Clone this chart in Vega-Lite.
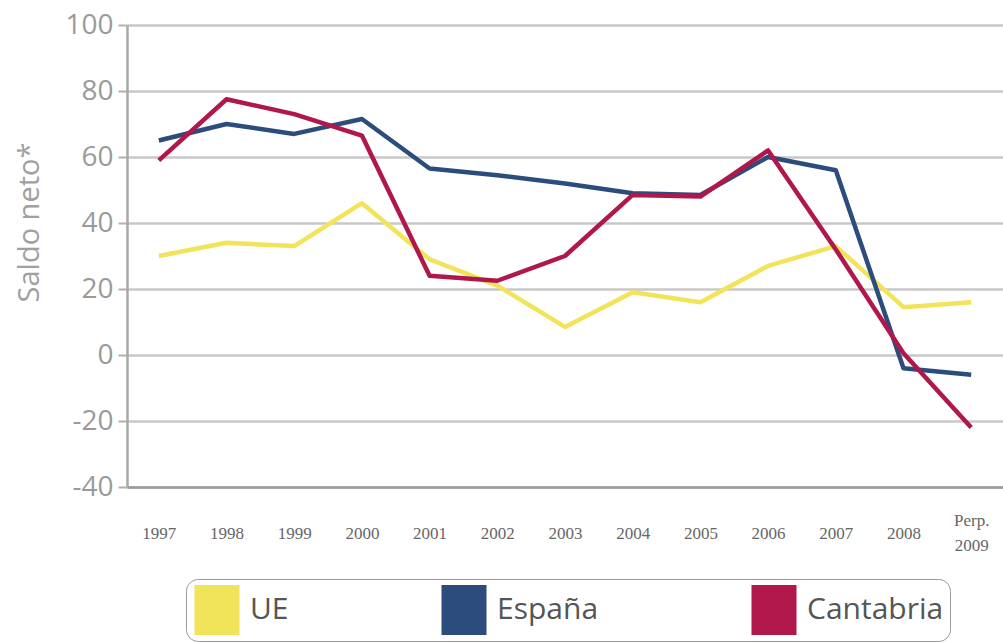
{
  "$schema": "https://vega.github.io/schema/vega-lite/v6.json",
  "width": 876,
  "height": 462,
  "autosize": {"type": "none"},
  "padding": {"left": 127, "top": 25, "right": 0, "bottom": 155},
  "background": "white",
  "config": {
    "view": {"stroke": null},
    "font": "Open Sans"
  },
  "data": {
    "values": [
      {"year": "1997", "serie": "UE", "valor": 30},
      {"year": "1998", "serie": "UE", "valor": 34},
      {"year": "1999", "serie": "UE", "valor": 33},
      {"year": "2000", "serie": "UE", "valor": 46},
      {"year": "2001", "serie": "UE", "valor": 29},
      {"year": "2002", "serie": "UE", "valor": 21},
      {"year": "2003", "serie": "UE", "valor": 8.5},
      {"year": "2004", "serie": "UE", "valor": 19},
      {"year": "2005", "serie": "UE", "valor": 16},
      {"year": "2006", "serie": "UE", "valor": 27},
      {"year": "2007", "serie": "UE", "valor": 33},
      {"year": "2008", "serie": "UE", "valor": 14.5},
      {"year": "Perp. 2009", "serie": "UE", "valor": 16},
      {"year": "1997", "serie": "España", "valor": 65},
      {"year": "1998", "serie": "España", "valor": 70},
      {"year": "1999", "serie": "España", "valor": 67},
      {"year": "2000", "serie": "España", "valor": 71.5},
      {"year": "2001", "serie": "España", "valor": 56.5},
      {"year": "2002", "serie": "España", "valor": 54.5},
      {"year": "2003", "serie": "España", "valor": 52},
      {"year": "2004", "serie": "España", "valor": 49},
      {"year": "2005", "serie": "España", "valor": 48.5},
      {"year": "2006", "serie": "España", "valor": 60},
      {"year": "2007", "serie": "España", "valor": 56},
      {"year": "2008", "serie": "España", "valor": -4},
      {"year": "Perp. 2009", "serie": "España", "valor": -6},
      {"year": "1997", "serie": "Cantabria", "valor": 59},
      {"year": "1998", "serie": "Cantabria", "valor": 77.5},
      {"year": "1999", "serie": "Cantabria", "valor": 73},
      {"year": "2000", "serie": "Cantabria", "valor": 66.5},
      {"year": "2001", "serie": "Cantabria", "valor": 24},
      {"year": "2002", "serie": "Cantabria", "valor": 22.5},
      {"year": "2003", "serie": "Cantabria", "valor": 30},
      {"year": "2004", "serie": "Cantabria", "valor": 48.5},
      {"year": "2005", "serie": "Cantabria", "valor": 48},
      {"year": "2006", "serie": "Cantabria", "valor": 62},
      {"year": "2007", "serie": "Cantabria", "valor": 32},
      {"year": "2008", "serie": "Cantabria", "valor": 0.5},
      {"year": "Perp. 2009", "serie": "Cantabria", "valor": -22}
    ]
  },
  "mark": {"type": "line", "strokeWidth": 4.5, "strokeJoin": "round"},
  "encoding": {
    "x": {
      "field": "year",
      "type": "ordinal",
      "sort": null,
      "scale": {"type": "point", "padding": 0.47},
      "axis": {
        "title": null,
        "grid": false,
        "ticks": false,
        "tickSize": 0,
        "domain": true,
        "domainColor": "#9a9a9a",
        "domainWidth": 2.5,
        "labelAngle": 0,
        "labelFont": "Liberation Serif",
        "labelFontSize": 17,
        "labelColor": "#666666",
        "labelBaseline": "middle",
        "labelPadding": {"condition": {"test": "datum.value == 'Perp. 2009'", "value": 33}, "value": 46},
        "labelLineHeight": 25,
        "labelExpr": "datum.value == 'Perp. 2009' ? ['Perp.', '2009'] : datum.value"
      }
    },
    "y": {
      "field": "valor",
      "type": "quantitative",
      "scale": {"domain": [-40, 100], "nice": false, "zero": false},
      "axis": {
        "title": "Saldo neto*",
        "titleFont": "Open Sans",
        "titleFontSize": 29,
        "titleFontWeight": "normal",
        "titleColor": "#a0a0a0",
        "titleX": -98,
        "titleY": 197,
        "titleAlign": "center",
        "titleBaseline": "middle",
        "titleAngle": -90,
        "values": [-40, -20, 0, 20, 40, 60, 80, 100],
        "labelExpr": "'' + datum.value",
        "grid": true,
        "gridColor": "#c8c8c8",
        "gridWidth": 2.5,
        "domain": true,
        "domainColor": "#a8a8a8",
        "domainWidth": 2.5,
        "ticks": true,
        "tickSize": 9,
        "tickColor": "#b0b0b0",
        "tickWidth": 2,
        "labelFont": "Open Sans",
        "labelFontSize": 28,
        "labelColor": "#9a9a9a",
        "labelPadding": 5,
        "labelBaseline": "middle"
      }
    },
    "color": {
      "field": "serie",
      "type": "nominal",
      "scale": {
        "domain": ["UE", "España", "Cantabria"],
        "range": ["#f2e45a", "#2b4c7c", "#b0174a"]
      },
      "legend": {
        "title": null,
        "orient": "none",
        "direction": "horizontal",
        "legendX": 59,
        "legendY": 554,
        "symbolType": "M-0.9,-1H0.9V1H-0.9Z",
        "symbolSize": 2500,
        "symbolStrokeWidth": 0,
        "symbolOpacity": 1,
        "labelFont": "Open Sans",
        "labelFontSize": 30,
        "labelColor": "#555555",
        "labelOffset": 8,
        "columnPadding": 150,
        "padding": 6,
        "strokeColor": "#999999",
        "cornerRadius": 12,
        "encode": {
          "symbols": {
            "update": {
              "fill": {"scale": "color", "field": "value"},
              "stroke": {"value": "transparent"},
              "strokeWidth": {"value": 0}
            }
          }
        }
      }
    }
  }
}
